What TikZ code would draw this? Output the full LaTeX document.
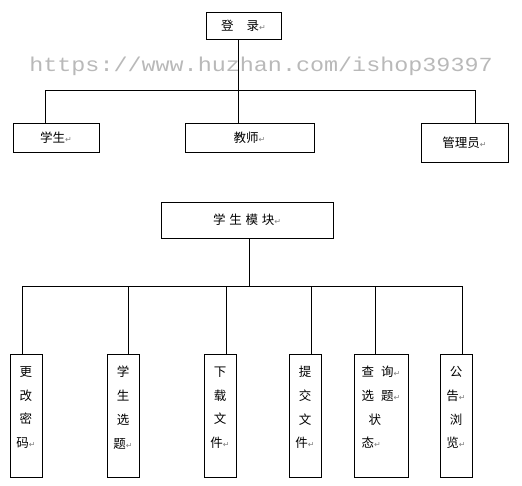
\documentclass[tikz,border=0pt]{standalone}
\usepackage{fontspec}
\setmainfont{Noto Sans CJK SC}
\newfontfamily\symfont{DejaVu Sans}
\newfontfamily\wmfont[FakeStretch=1.17]{Liberation Mono}
\newcommand{\pmark}{{\symfont\fontsize{8}{8}\selectfont\textcolor{gray}{↵}}}
\tikzstyle{block} = [rectangle, draw, line width=0.8pt, inner sep=0pt,
font=\fontsize{12.5}{14}\selectfont]
\tikzstyle{column} = [block, minimum width=32pt, minimum height=123pt,
align=center, font=\fontsize{12.5}{23.7}\selectfont]
\tikzstyle{line} = [draw, line width=0.8pt]

\begin{document}
\begin{tikzpicture}[x=1pt, y=-1pt]
\useasboundingbox (0,0) rectangle (522,486);
\node [text=gray!55, font=\wmfont\fontsize{20}{20}\selectfont] (watermark) at (261,66) {https://www.huzhan.com/ishop39397};

% Place nodes
\node [block, minimum width=75pt, minimum height=27pt] (login) at (243.5,25.5) {登\hspace{1.05em}录\pmark};
\node [block, minimum width=86pt, minimum height=29pt] (xs) at (56,137.5) {学生\pmark};
\node [block, minimum width=129pt, minimum height=29pt] (js) at (249.5,137.5) {教师\pmark};
\node [block, minimum width=87pt, minimum height=39pt] (gl) at (464.5,142.5) {管理员\pmark};
\node [block, minimum width=172pt, minimum height=36pt] (mk) at (247,220) {学\hspace{.3em}生\hspace{.3em}模\hspace{.3em}块\pmark};
\node [column] (gg) at (26,415.5) {更\\改\\密\\码\pmark\\[-7pt]\mbox{}};
\node [column] (xt) at (123,415.5) {学\\生\\选\\题\pmark\\[-7pt]\mbox{}};
\node [column] (xz) at (220,415.5) {下\\载\\文\\件\pmark\\[-7pt]\mbox{}};
\node [column] (tj) at (305,415.5) {提\\交\\文\\件\pmark\\[-7pt]\mbox{}};
\node [column, minimum width=54pt, align=left] (cx) at (381,415.5) {查\hspace{.55em}询\pmark\\选\hspace{.55em}题\pmark\\\hspace{.55em}状\\态\pmark\\[-7pt]\mbox{}};
\node [column] (gb) at (456,415.5) {公\\告\pmark\\浏\\览\pmark\\[-7pt]\mbox{}};
\coordinate (bus1) at (243.5,90);
\coordinate (bus2) at (249,286.5);

% Draw edges
\path [line] ([xshift=-5]login.south) -- ([xshift=-5]login.south |- bus1);
\path [line] ([xshift=-11]xs.north) |- ([xshift=10.5]gl.north |- bus1) -- ([xshift=10.5]gl.north);
\path [line] ([xshift=-11.5]js.north) -- ([xshift=-11.5]js.north |- bus1);
\path [line] ([xshift=2]mk.south) -- ([xshift=2]mk.south |- bus2);
\path [line] ([xshift=-4]gg.north) |- ([xshift=6]gb.north |- bus2) -- ([xshift=6]gb.north);
\foreach \n/\s in {xt/5, xz/6, tj/6, cx/-6}
  \path [line] ([xshift=\s]\n.north) -- ([xshift=\s]\n.north |- bus2);
\end{tikzpicture}
\end{document}
